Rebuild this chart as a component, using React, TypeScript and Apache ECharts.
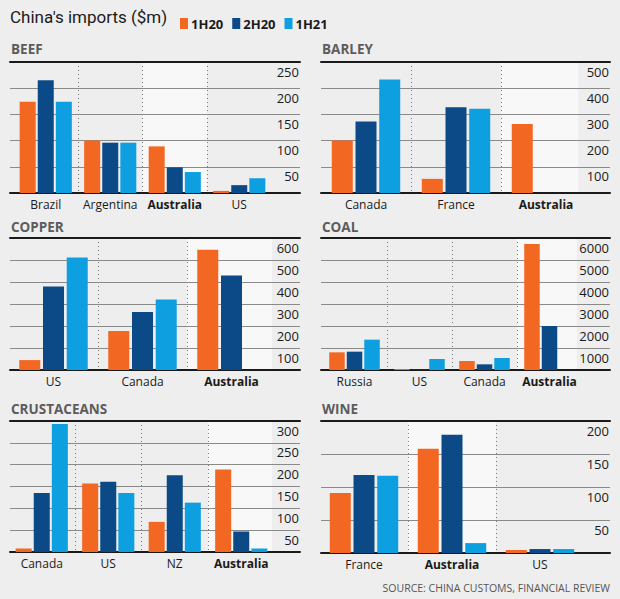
import React, { useEffect, useRef } from 'react';
import * as echarts from 'echarts';

// ---------- DATA ----------
const seriesNames = ['1H20', '2H20', '1H21'];

const beefCategories = ['Brazil', 'Argentina', 'Australia', 'US'];
const beef1H20 = [174, 100, 89, 4];
const beef2H20 = [215, 96, 49, 15];
const beef1H21 = [174, 96, 40, 28];
const beefTicks = [0, 50, 100, 150, 200, 250];

const barleyCategories = ['Canada', 'France', 'Australia'];
const barley1H20 = [200, 54, 263];
const barley2H20 = [273, 327, null];
const barley1H21 = [433, 322, null];
const barleyTicks = [0, 100, 200, 300, 400, 500];

const copperCategories = ['US', 'Canada', 'Australia'];
const copper1H20 = [45, 177, 547];
const copper2H20 = [380, 264, 430];
const copper1H21 = [511, 320, null];
const copperTicks = [0, 100, 200, 300, 400, 500, 600];

const coalCategories = ['Russia', 'US', 'Canada', 'Australia'];
const coal1H20 = [803, 45, 409, 5727];
const coal2H20 = [833, 15, 258, 2000];
const coal1H21 = [1379, 500, 545, null];
const coalTicks = [0, 1000, 2000, 3000, 4000, 5000, 6000];

const crustCategories = ['Canada', 'US', 'NZ', 'Australia'];
const crust1H20 = [8, 157, 69, 189];
const crust2H20 = [135, 161, 176, 47];
const crust1H21 = [293, 135, 113, 8];
const crustTicks = [0, 50, 100, 150, 200, 250, 300];

const wineCategories = ['France', 'Australia', 'US'];
const wine1H20 = [91, 158, 4.5];
const wine2H20 = [118, 179, 6];
const wine1H21 = [117, 15, 6];
const wineTicks = [0, 50, 100, 150, 200];

// ---------- STYLE / LAYOUT ----------
const COLORS = ['#f26722', '#0b4a86', '#0e9fe0'];
const FONT = "'Open Sans', 'Noto Sans', sans-serif";
const BG = '#eeeeee';
const HIGHLIGHT = '#f8f8f8';

const panels = [
  { title: 'BEEF', categories: beefCategories, values: [beef1H20, beef2H20, beef1H21], ticks: beefTicks,
    layout: { x0: 10, x1: 300, top: 62, bottom: 193, catStart: 13.5, catW: 64.5, barW: 16, titleY: 50, labelBox: null } },
  { title: 'BARLEY', categories: barleyCategories, values: [barley1H20, barley2H20, barley1H21], ticks: barleyTicks,
    layout: { x0: 321, x1: 610, top: 62, bottom: 193, catStart: 321, catW: 90, barW: 21, titleY: 50, labelBox: 578 } },
  { title: 'COPPER', categories: copperCategories, values: [copper1H20, copper2H20, copper1H21], ticks: copperTicks,
    layout: { x0: 10, x1: 300, top: 238, bottom: 370, catStart: 9, catW: 89, barW: 21, titleY: 228, labelBox: 272 } },
  { title: 'COAL', categories: coalCategories, values: [coal1H20, coal2H20, coal1H21], ticks: coalTicks,
    layout: { x0: 321, x1: 610, top: 238, bottom: 370, catStart: 322, catW: 65, barW: 15.5, titleY: 228, labelBox: 577 } },
  { title: 'CRUSTACEANS', categories: crustCategories, values: [crust1H20, crust2H20, crust1H21], ticks: crustTicks,
    layout: { x0: 10, x1: 300, top: 421, bottom: 552, catStart: 8.5, catW: 66.5, barW: 16, titleY: 410, labelBox: 272 } },
  { title: 'WINE', categories: wineCategories, values: [wine1H20, wine2H20, wine1H21], ticks: wineTicks,
    layout: { x0: 321, x1: 610, top: 421, bottom: 553, catStart: 320, catW: 88, barW: 21, titleY: 410, labelBox: null } },
];

function buildOption() {
  const grid: any[] = [];
  const xAxis: any[] = [];
  const yAxis: any[] = [];
  const series: any[] = [];
  const graphic: any[] = [];

  graphic.push({
    type: 'text', left: 10, top: 8, z: 10,
    style: { text: "China's imports ($m)", fontFamily: 'Roboto, sans-serif', fontSize: 17, fill: '#1a1a1a' },
  });
  graphic.push({
    type: 'text', right: 10, top: 582, z: 10,
    style: { text: 'SOURCE: CHINA CUSTOMS, FINANCIAL REVIEW', fontFamily: FONT, fontSize: 10.5, fill: '#555555', textAlign: 'right' },
  });

  panels.forEach((p) => {
    const L = p.layout;
    const h = L.bottom - L.top;
    const max = p.ticks[p.ticks.length - 1];
    const interval = p.ticks[1] - p.ticks[0];

    const gA = grid.length;
    grid.push({ left: L.x0, top: L.top, width: L.x1 - L.x0, height: h });
    const gB = grid.length;
    grid.push({ left: L.catStart, top: L.top, width: L.catW * p.categories.length, height: h });

    const frameLine = {
      type: 'value', gridIndex: gA, min: 0, max: 1, z: 4,
      axisLine: { show: true, onZero: false, lineStyle: { color: '#1a1a1a', width: 2 } },
      axisTick: { show: false }, axisLabel: { show: false }, splitLine: { show: false },
    };
    xAxis.push({ ...frameLine, position: 'top' });
    xAxis.push({ ...frameLine, position: 'bottom' });

    yAxis.push({
      type: 'value', gridIndex: gA, position: 'right', min: 0, max, interval, z: 2,
      axisLine: { show: false }, axisTick: { show: false },
      splitLine: { show: true, lineStyle: { color: '#8a8a8a', width: 1 } },
      axisLabel: {
        inside: true, verticalAlign: 'top', align: 'right', margin: 1, padding: [3, 0, 0, 0],
        fontFamily: FONT, fontSize: 13, color: '#1a1a1a', showMinLabel: false,
        formatter: (v: number) => (v === 0 ? '' : String(v)),
      },
    });

    const xB = xAxis.length;
    xAxis.push({
      type: 'category', gridIndex: gB, data: p.categories, z: 0,
      axisLine: { show: false }, axisTick: { show: false, interval: 0 },
      axisLabel: {
        interval: 0, margin: 5, fontFamily: FONT, fontSize: 12, color: '#1a1a1a',
        formatter: (v: string) => (v === 'Australia' ? `{b|${v}}` : v),
        rich: { b: { fontFamily: FONT, fontSize: 12, fontWeight: 'bold', color: '#1a1a1a' } },
      },
      splitLine: { show: true, interval: 0, showMinLine: false, showMaxLine: false, lineStyle: { type: [1, 3], color: '#777777', width: 1 } },
      splitArea: { show: true, interval: 0, areaStyle: { color: p.categories.map((c) => (c === 'Australia' ? HIGHLIGHT : 'rgba(0,0,0,0)')) } },
    });
    const yB = yAxis.length;
    yAxis.push({ type: 'value', gridIndex: gB, min: 0, max, interval, show: false });

    p.values.forEach((d, k) => {
      series.push({
        type: 'bar', name: seriesNames[k], xAxisIndex: xB, yAxisIndex: yB, data: d,
        barWidth: L.barW, barGap: '13%', z: 5, silent: true,
        itemStyle: { color: COLORS[k] },
      });
    });

    if (L.labelBox !== null) {
      graphic.push({
        type: 'rect', z: 1, silent: true,
        shape: { x: L.labelBox, y: L.top, width: L.x1 - L.labelBox, height: h },
        style: { fill: BG },
      });
    }
    graphic.push({
      type: 'text', left: L.x0 + 1, top: L.titleY - 8, z: 10,
      style: { text: p.title, fontFamily: FONT, fontSize: 13.5, fontWeight: 'bold', fill: '#5c5c5c' },
    });
  });

  return {
    animation: false,
    backgroundColor: BG,
    color: COLORS,
    legend: {
      data: seriesNames, left: 175, top: 12, icon: 'rect', itemWidth: 8, itemHeight: 11, itemGap: 9,
      selectedMode: false,
      textStyle: { fontFamily: FONT, fontSize: 13, fontWeight: 'bold', color: '#1a1a1a', padding: [0, 0, 0, -2] },
    },
    grid, xAxis, yAxis, series, graphic,
  };
}

export default function App() {
  const ref = useRef<HTMLDivElement>(null);
  useEffect(() => {
    document.body.style.margin = '0';
    const chart = echarts.init(ref.current!, undefined, { renderer: 'svg' });
    chart.setOption(buildOption() as any);
    return () => chart.dispose();
  }, []);
  return <div ref={ref} style={{ width: 620, height: 599 }} />;
}
